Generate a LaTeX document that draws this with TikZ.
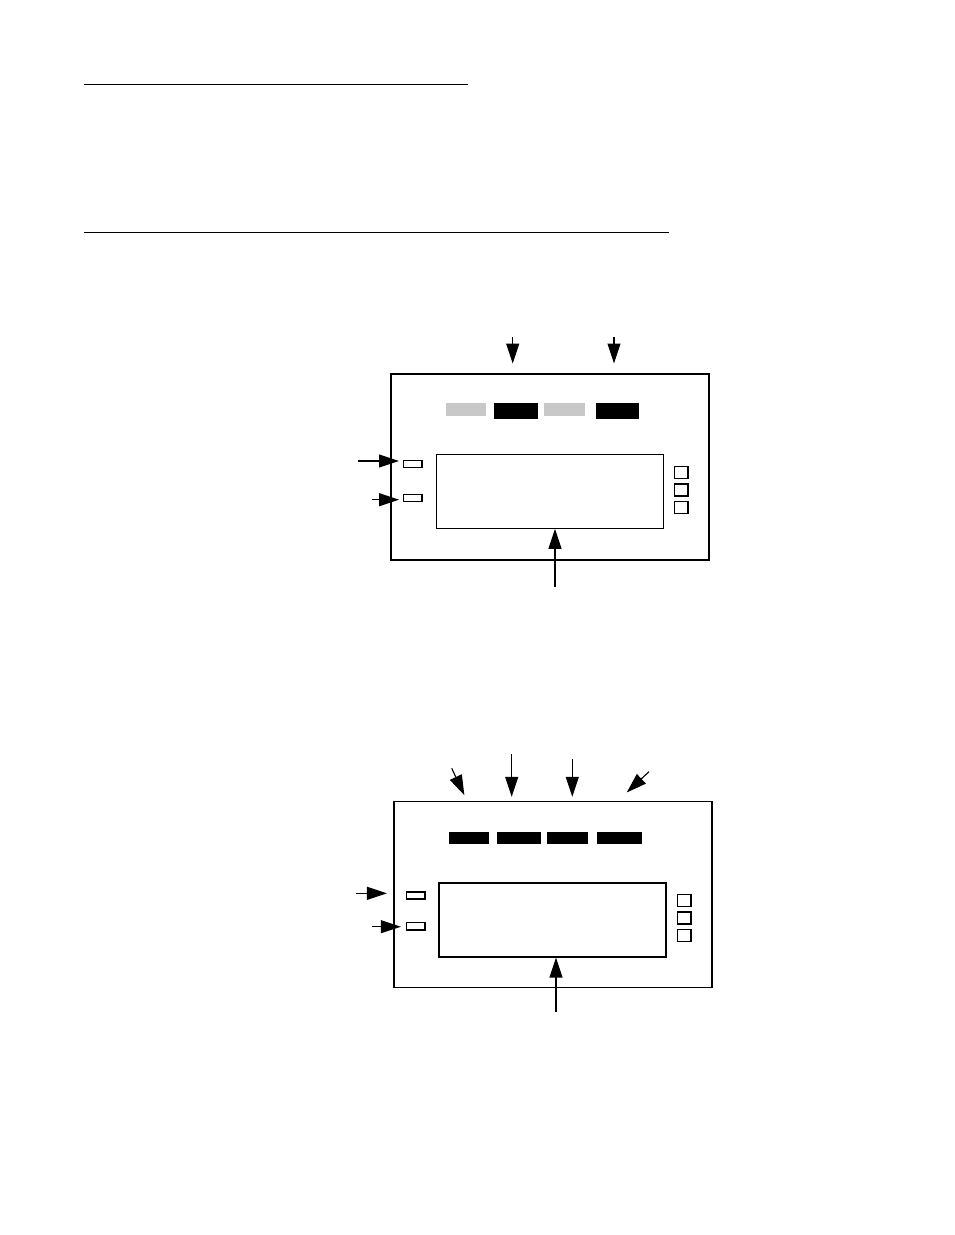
\documentclass[tikz,border=0pt]{standalone}
\usetikzlibrary{positioning, arrows.meta, calc}

\tikzset{
  panel/.style={draw, rectangle, inner sep=0pt, minimum width=318pt, minimum height=186pt},
  screen/.style={draw, rectangle, inner sep=0pt, line width=1.4pt, minimum width=227pt, minimum height=74pt},
  lamp/.style={draw, rectangle, inner sep=0pt, line width=1.5pt, minimum width=18.5pt, minimum height=7pt},
  keybox/.style={draw, rectangle, inner sep=0pt, line width=1.2pt, minimum width=13.5pt, minimum height=12pt},
  litbar/.style={fill=black, rectangle, inner sep=0pt, minimum height=#1},
  dimbar/.style={fill=dimgray, rectangle, inner sep=0pt, minimum height=13pt},
  arr/.style={-{Triangle[length=20pt,width=13pt]}, line width=1.1pt},
}
\definecolor{dimgray}{RGB}{200,200,200}

\begin{document}
\begin{tikzpicture}[x=1pt, y=-1pt, on grid, node distance=17.3pt]
    \useasboundingbox (0,0) rectangle (954,1235);

    % rules at the top
    \coordinate (r1a) at (84,84.3);
    \coordinate (r1b) at (468,84.3);
    \coordinate (r2a) at (84,232.3);
    \coordinate (r2b) at (668.7,232.3);
    \draw[line width=1.5pt] (r1a) -- (r1b);
    \draw[line width=1.5pt] (r2a) -- (r2b);

    % first panel
    \node[panel, line width=2pt] (p1) at (550,466.5) {};
    \node[dimbar, minimum width=40pt] (g1) at (466,409.5) {};
    \node[litbar=15.7pt, minimum width=44pt] (d1) at (516,410.8) {};
    \node[dimbar, minimum width=41pt] (g2) at (564.5,409.5) {};
    \node[litbar=15.7pt, minimum width=43pt] (d2) at (617.5,410.8) {};
    \node[screen] (s1) at (549.7,491.2) {};
    \node[lamp] (l1) at (412.5,464.2) {};
    \node[lamp] (l2) [below=34pt of l1] {};
    \node[keybox] (k1) at (681.2,472.7) {};
    \node[keybox] (k2) [below=of k1] {};
    \node[keybox] (k3) [below=of k2] {};

    \coordinate (t1) at (512.7,336.7);
    \coordinate (t2) at (614,336.7);
    \coordinate (w1) at (358.3,461);
    \coordinate (w2) at (372,499.7);
    \coordinate (u1) at (555,586.7);

    \path[arr]
    (t1) edge[shorten >=9pt] (t1 |- p1.north)
        (t2) edge[shorten >=9pt] (t2 |- p1.north)
    (w1) edge[shorten >=3.5pt] (w1 -| l1.west)
        (w2) edge[shorten >=3.5pt] (w2 -| l2.west)
    (u1) edge (u1 |- s1.south);

    % second panel
    \node[panel, line width=1.3pt] (p2) at (553,894.5) {};
    \node[litbar=11.7pt, minimum width=40pt] (e1) at (469,837.8) {};
    \node[litbar=11.7pt, minimum width=44pt] (e2) at (519,837.8) {};
    \node[litbar=11.7pt, minimum width=41pt] (e3) at (567.5,837.8) {};
    \node[litbar=11.7pt, minimum width=45pt] (e4) at (619.5,837.8) {};
    \node[screen] (s2) at (552.3,919.8) {};
    \node[lamp] (l3) at (415.5,895.5) {};
    \node[lamp, minimum height=7.5pt] (l4) [below=30.8pt of l3] {};
    \node[keybox] (k4) at (684.3,900.7) {};
    \node[keybox] (k5) [below=of k4] {};
    \node[keybox] (k6) [below=of k5] {};

    \coordinate (v1) at (451.7,768.3);
    \coordinate (v1tip) at ($(p2.north west)+(71,-5.7)$);
    \coordinate (v2) at (511.7,754);
    \coordinate (v3) at (572.3,759.3);
    \coordinate (v4) at (649,771.7);
    \coordinate (v4tip) at ($(p2.north west)+(233.4,-8.4)$);
    \coordinate (w3) at (356,893.3);
    \coordinate (w4) at (372.3,926.7);
    \coordinate (u2) at (556,1011.7);

    \path[arr]
    (v1) edge (v1tip)
        (v2) edge[shorten >=4pt] (v2 |- p2.north)
    (v3) edge[shorten >=4pt] (v3 |- p2.north)
        (v4) edge (v4tip)
    (w3) edge[shorten >=18.6pt] (w3 -| l3.west)
        (w4) edge[shorten >=4.6pt] (w4 -| l4.west)
    (u2) edge (u2 |- s2.south);
\end{tikzpicture}
\end{document}
